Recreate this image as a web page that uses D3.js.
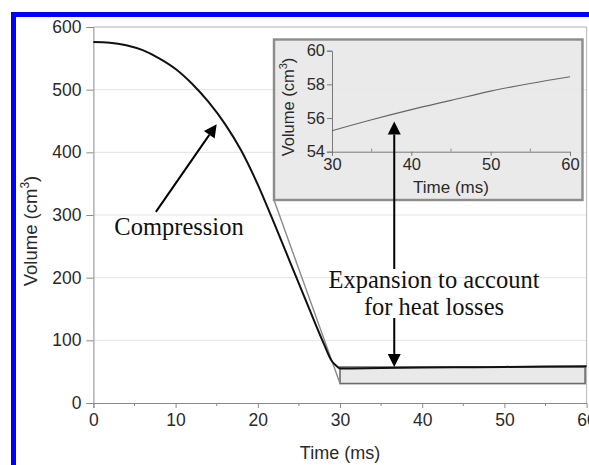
<!DOCTYPE html>
<html>
<head>
<meta charset="utf-8">
<script src="https://cdn.jsdelivr.net/npm/d3@7"></script>
<style>
  html, body { margin: 0; padding: 0; background: #fff; }
  svg { display: block; }
</style>
</head>
<body>
<svg id="chart" width="589" height="465"></svg>
<script>
// Compression stroke: time (ms) and cylinder volume (cm^3)
const compTime   = [0, 2, 4, 6, 8, 10, 12, 14, 16, 18, 20, 22, 24, 26, 28, 29, 29.5];
const compVolume = [576, 575, 571, 563, 550, 533, 509.5, 480.5, 445.5, 402.5, 348.5, 286.5, 222.5, 158.5, 95.5, 67, 60];

// Expansion phase after top dead centre (heat-loss compensation)
const expTime   = [30, 35, 40, 45, 50, 55, 60];
const expVolume = [55.25, 55.9, 56.5, 57.05, 57.6, 58.05, 58.45];

// Axis ticks
const mainXTicks = [0, 10, 20, 30, 40, 50, 60];
const mainXMinor = [5, 15, 25, 35, 45, 55];
const mainYTicks = [0, 100, 200, 300, 400, 500, 600];
const insetXTicks = [30, 40, 50, 60];
const insetXMinor = [35, 45, 55];
const insetYTicks = [54, 56, 58, 60];

// Highlighted window shown enlarged in the inset (time, volume)
const zoomT = [30, 60];
const zoomV = [31, 57.4];

const svg = d3.select("#chart");
const AXIS = "#8a8a8a";
const TXT = "#2a2a2a";
const SANS = "Liberation Sans, Arial, Helvetica, sans-serif";
const SERIF = "Liberation Serif, 'Times New Roman', serif";

// Blue frame on top and left
svg.append("rect").attr("x", 11).attr("y", 12).attr("width", 578).attr("height", 5).attr("fill", "#0000ff");
svg.append("rect").attr("x", 11).attr("y", 12).attr("width", 5).attr("height", 453).attr("fill", "#0000ff");

// Main scales
const x = d3.scaleLinear().domain([0, 60]).range([93.4, 586.6]);
const y = d3.scaleLinear().domain([0, 600]).range([403, 27]);

// Horizontal grid
svg.append("g").selectAll("line").data(mainYTicks.filter(d => d > 0 && d < 600)).join("line")
  .attr("x1", x(0)).attr("x2", x(60)).attr("y1", d => y(d)).attr("y2", d => y(d))
  .attr("stroke", "#e4e4e4").attr("stroke-width", 1);

// Frame top/right
svg.append("line").attr("x1", x(0)).attr("x2", x(60)).attr("y1", y(600)).attr("y2", y(600))
  .attr("stroke", "#b0b0b0").attr("stroke-width", 1);
svg.append("line").attr("x1", x(60)).attr("x2", x(60)).attr("y1", y(600)).attr("y2", y(0))
  .attr("stroke", "#b8b8b8").attr("stroke-width", 1);

// Axes
const xAxis = d3.axisBottom(x).tickValues(mainXTicks).tickSize(5).tickPadding(6).tickFormat(d3.format("d"));
const gx = svg.append("g").attr("transform", `translate(0,${y(0)})`).call(xAxis);
gx.selectAll(".tick").filter(d => d === 60).select("line").remove();
gx.append("g").selectAll("line").data(mainXMinor).join("line")
  .attr("x1", d => x(d)).attr("x2", d => x(d)).attr("y1", 0).attr("y2", 3)
  .attr("stroke", AXIS);
const yAxis = d3.axisLeft(y).tickValues(mainYTicks).tickSize(7).tickPadding(5).tickFormat(d3.format("d"));
const gy = svg.append("g").attr("transform", `translate(${x(0)},0)`).call(yAxis);
[gx, gy].forEach(g => {
  g.select(".domain").attr("stroke", AXIS);
  g.selectAll(".tick line").attr("stroke", AXIS);
  g.selectAll("text").attr("fill", TXT).attr("font-family", SANS).attr("font-size", 17.5);
});

// Axis titles
svg.append("text").attr("x", (x(0) + x(60)) / 2).attr("y", 459).attr("text-anchor", "middle")
  .attr("font-family", SANS).attr("font-size", 18).attr("fill", TXT).text("Time (ms)");
const yt = svg.append("text").attr("transform", "translate(37,231) rotate(-90)").attr("text-anchor", "middle")
  .attr("font-family", SANS).attr("font-size", 18.5).attr("fill", TXT);
yt.append("tspan").text("Volume (cm");
yt.append("tspan").attr("font-size", 12).attr("dy", -8).text("3");
yt.append("tspan").attr("dy", 8).text(")");

// Highlight window
svg.append("rect")
  .attr("x", x(zoomT[0])).attr("y", y(zoomV[1]))
  .attr("width", x(zoomT[1]) - x(zoomT[0]) - 1.5).attr("height", y(zoomV[0]) - y(zoomV[1]))
  .attr("fill", "#e9e9e9").attr("stroke", "#6a6a6a").attr("stroke-width", 1.6);

// Inset geometry
const inset = { x0: 274, y0: 39.5, x1: 582.5, y1: 200 };
const ix = d3.scaleLinear().domain([30, 60]).range([332, 570]);
const iy = d3.scaleLinear().domain([54, 60]).range([151.7, 50.7]);

// Connector from window to inset
svg.append("line").attr("x1", x(zoomT[0])).attr("y1", y(zoomV[0]))
  .attr("x2", inset.x0).attr("y2", inset.y1)
  .attr("stroke", "#8a8a8a").attr("stroke-width", 1.4);

// Full volume trace
const allT = compTime.concat(expTime);
const allV = compVolume.concat(expVolume);
const trace = allT.map((t, i) => [t, allV[i]]);
svg.append("path").datum(trace)
  .attr("d", d3.line().x(d => x(d[0])).y(d => y(d[1])).curve(d3.curveMonotoneX))
  .attr("fill", "none").attr("stroke", "#111").attr("stroke-width", 2);

// Inset panel
svg.append("rect").attr("x", inset.x0).attr("y", inset.y0)
  .attr("width", inset.x1 - inset.x0).attr("height", inset.y1 - inset.y0)
  .attr("fill", "#e6e6e6").attr("fill-opacity", 0.85)
  .attr("stroke", "#8c8c8c").attr("stroke-width", 2.4);

const ixAxis = d3.axisBottom(ix).tickValues(insetXTicks).tickSize(4).tickPadding(3).tickFormat(d3.format("d"));
const gix = svg.append("g").attr("transform", `translate(0,${iy(54)})`).call(ixAxis);
gix.append("g").selectAll("line").data(insetXMinor).join("line")
  .attr("x1", d => ix(d)).attr("x2", d => ix(d)).attr("y1", 0).attr("y2", -3).attr("stroke", "#888");
const iyAxis = d3.axisLeft(iy).tickValues(insetYTicks).tickSize(5).tickPadding(2).tickFormat(d3.format("d"));
const giy = svg.append("g").attr("transform", `translate(${ix(30)},0)`).call(iyAxis);
[gix, giy].forEach(g => {
  g.select(".domain").attr("stroke", "#7a7a7a");
  g.selectAll(".tick line").attr("stroke", "#7a7a7a");
  g.selectAll("text").attr("fill", TXT).attr("font-family", SANS).attr("font-size", 16.5);
});
svg.append("text").attr("x", (ix(30) + ix(60)) / 2).attr("y", 193).attr("text-anchor", "middle")
  .attr("font-family", SANS).attr("font-size", 17).attr("fill", TXT).text("Time (ms)");
const iyt = svg.append("text").attr("transform", "translate(294,107) rotate(-90)").attr("text-anchor", "middle")
  .attr("font-family", SANS).attr("font-size", 16.5).attr("fill", TXT);
iyt.append("tspan").text("Volume (cm");
iyt.append("tspan").attr("font-size", 11).attr("dy", -7).text("3");
iyt.append("tspan").attr("dy", 7).text(")");

svg.append("path").datum(expTime.map((t, i) => [t, expVolume[i]]))
  .attr("d", d3.line().x(d => ix(d[0])).y(d => iy(d[1])).curve(d3.curveMonotoneX))
  .attr("fill", "none").attr("stroke", "#666").attr("stroke-width", 1.1);

// Arrows
function arrow(x1, y1, x2, y2) {
  const ang = Math.atan2(y2 - y1, x2 - x1);
  const L = 13, W = 6.5;
  const bx = x2 - L * Math.cos(ang), by = y2 - L * Math.sin(ang);
  svg.append("line").attr("x1", x1).attr("y1", y1).attr("x2", bx).attr("y2", by)
    .attr("stroke", "#000").attr("stroke-width", 2);
  const px = -Math.sin(ang) * W, py = Math.cos(ang) * W;
  svg.append("path")
    .attr("d", `M${x2},${y2}L${bx + px},${by + py}L${bx - px},${by - py}Z`)
    .attr("fill", "#000");
}
arrow(x(7.6), y(305), x(15.0), y(445));
arrow(x(36.6), 269, x(36.6), 121.5);
arrow(x(36.6), 318, x(36.6), y(57.6));

// Annotations
svg.append("text").attr("x", 179).attr("y", 235).attr("text-anchor", "middle")
  .attr("font-family", SERIF).attr("font-size", 24.5).attr("fill", "#111").text("Compression");
svg.append("text").attr("x", 434).attr("y", 288).attr("text-anchor", "middle")
  .attr("font-family", SERIF).attr("font-size", 24.5).attr("fill", "#111").text("Expansion to account");
svg.append("text").attr("x", 434).attr("y", 315).attr("text-anchor", "middle")
  .attr("font-family", SERIF).attr("font-size", 24.5).attr("fill", "#111").text("for heat losses");
</script>
</body>
</html>
